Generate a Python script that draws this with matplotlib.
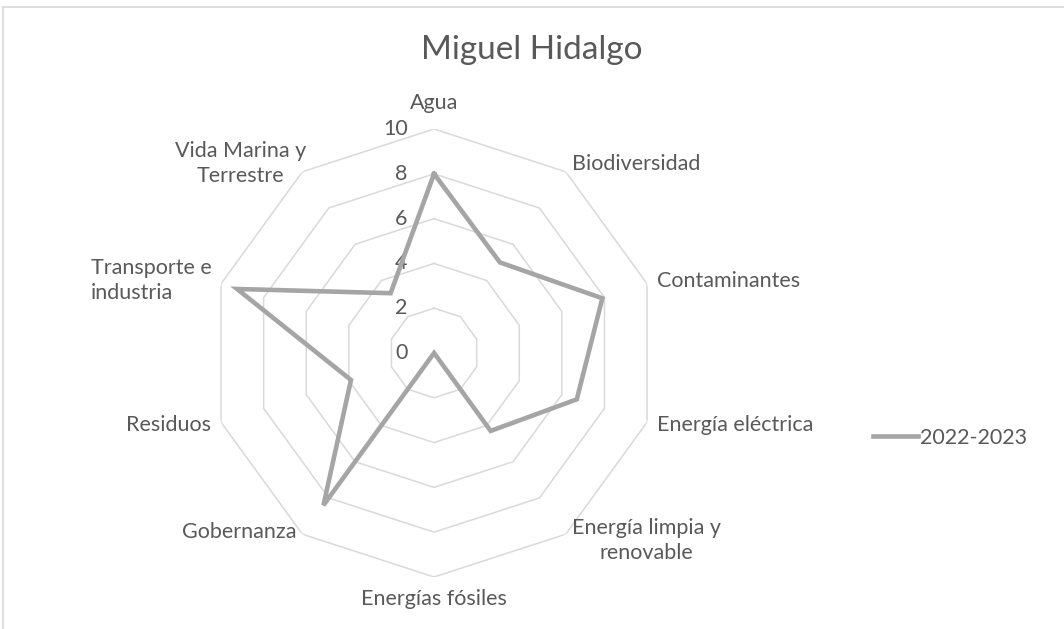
import numpy as np
import matplotlib
matplotlib.use("Agg")
import matplotlib.pyplot as plt
from matplotlib.lines import Line2D

plt.rcParams['font.family'] = ['Lato', 'DejaVu Sans']

categorias = ["Agua", "Biodiversidad", "Contaminantes", "Energía eléctrica",
              "Energía limpia y\nrenovable", "Energías fósiles", "Gobernanza",
              "Residuos", "Transporte e\nindustria", "Vida Marina y\nTerrestre"]
valores = [8.0, 5.0, 7.9, 6.7, 4.3, 0.0, 8.4, 3.9, 9.25, 3.3]
serie = "2022-2023"
anillos = [0, 2, 4, 6, 8, 10]

gris_texto = "#595959"
gris_grid = "#D9D9D9"
gris_linea = "#A5A5A5"
fs = 15.5

fig = plt.figure(figsize=(10.64, 6.29), dpi=100)
ax = fig.add_axes([0.1974, 0.0827, 0.4211, 0.7122], projection="polar")
ax.set_theta_zero_location("N")
ax.set_theta_direction(-1)
ax.set_ylim(0, 10)
ax.grid(False)
ax.spines["polar"].set_visible(False)
ax.set_xticks([])
ax.set_yticks([])
ax.patch.set_alpha(0)

n = len(categorias)
ang = np.linspace(0, 2 * np.pi, n, endpoint=False)
ang_c = np.append(ang, ang[0])

# rejilla poligonal
for r in anillos[1:]:
    ax.plot(ang_c, [r] * (n + 1), color=gris_grid, lw=1.1, zorder=1)

# etiquetas del eje de valores
for r in anillos:
    ax.annotate(str(r), xy=(0, r), xytext=(-19, 0), textcoords="offset points",
                ha="right", va="center", fontsize=fs, color=gris_texto)

# serie
vals_c = valores + valores[:1]
ax.plot(ang_c, vals_c, color=gris_linea, lw=3.3, solid_joinstyle="miter",
        label=serie, zorder=3)

# etiquetas de categoria: (radio, ha, va, alineacion, desplazamiento en pt)
pos = [(11.15, "center", "center", "center", (0, 0)),
       (10.45, "left", "center", "center", (0, 0)),
       (10.45, "left", "center", "center", (0, 0)),
       (10.45, "left", "center", "center", (0, 0)),
       (10.5, "left", "center", "center", (0, 2)),
       (11.0, "center", "center", "center", (0, 0)),
       (10.45, "right", "bottom", "center", (0, 0)),
       (10.45, "right", "center", "center", (0, 0)),
       (10.45, "right", "center", "left", (0, 0)),
       (10.45, "right", "center", "center", (7, 0))]
for a, lab, (r, ha, va, ma, off) in zip(ang, categorias, pos):
    ax.annotate(lab, xy=(a, r), xytext=off, textcoords="offset points",
                ha=ha, va=va, multialignment=ma, fontsize=fs,
                color=gris_texto, linespacing=1.32, annotation_clip=False)

fig.text(0.5, 1 - 50 / 629, "Miguel Hidalgo", ha="center", va="center",
         fontsize=24, color=gris_texto)

leg = ax.legend(loc="center left", bbox_to_anchor=(873 / 1064, 1 - 438 / 629),
                bbox_transform=fig.transFigure, frameon=False, fontsize=fs,
                handlelength=2.1, handletextpad=0.1, borderpad=0, borderaxespad=0)
for t in leg.get_texts():
    t.set_color(gris_texto)

# borde del area del grafico
fig.add_artist(Line2D([3 / 1064, 3 / 1064], [0, 1 - 7 / 629], color=gris_grid,
                      lw=1.2, transform=fig.transFigure))
fig.add_artist(Line2D([3 / 1064, 1], [1 - 7 / 629, 1 - 7 / 629], color=gris_grid,
                      lw=1.2, transform=fig.transFigure))

fig.savefig("out.png", dpi=100)
